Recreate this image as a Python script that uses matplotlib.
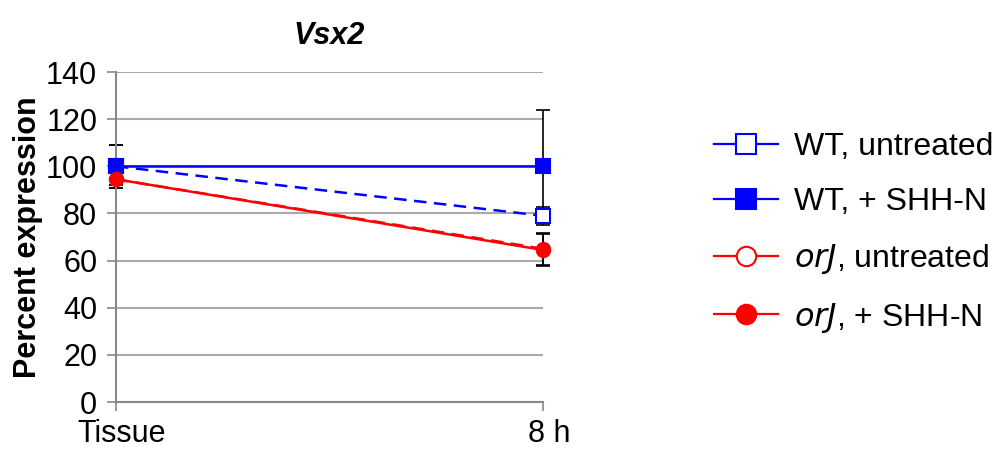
import matplotlib.pyplot as plt
from matplotlib.transforms import ScaledTranslation

plt.rcParams['font.family'] = ['Liberation Sans', 'DejaVu Sans']

timepoints = ['Tissue', '8 h']
wt_untreated = [100, 79]
wt_untreated_err = [9, 3.8]
wt_shh = [100, 100]
wt_shh_err = [9, 24]
orj_untreated = [94.5, 65]
orj_untreated_err = [2.5, 6.7]
orj_shh = [94.5, 64.5]
orj_shh_err = [2.5, 6.8]

fig = plt.figure(figsize=(10.03, 4.53), dpi=100)
ax = fig.add_axes([116 / 1003, 51 / 453, 427 / 1003, 330 / 453])

x = [0, 1]
series = [
    (wt_untreated, wt_untreated_err, 'blue', '--', 's', 'white', 'WT, untreated'),
    (wt_shh, wt_shh_err, 'blue', '-', 's', 'blue', 'WT, + SHH-N'),
    (orj_untreated, orj_untreated_err, 'red', '--', 'o', 'white', '$\\it{orJ}$, untreated'),
    (orj_shh, orj_shh_err, 'red', '-', 'o', 'red', '$\\it{orJ}$, + SHH-N'),
]
handles = []
for vals, err, col, ls, mk, fc, lab in series:
    eb = ax.errorbar(x, vals, yerr=err, fmt='none', ecolor='black', elinewidth=1.2,
                     capsize=5, capthick=1.2, zorder=2)
    for art in eb.lines[1] + eb.lines[2]:
        art.set_clip_on(False)
    line, = ax.plot(x, vals, color=col, linestyle=ls, linewidth=1.8, zorder=3, clip_on=False)
    if ls == '--':
        line.set_dashes((5, 3))
    ax.plot(x, vals, linestyle='none', marker=mk, markersize=9.5, clip_on=False,
            markerfacecolor=fc, markeredgecolor=col, markeredgewidth=1.5, zorder=4)
    h, = plt.plot([], [], color=col, linewidth=1.6, marker=mk, markersize=14,
                  markerfacecolor=fc, markeredgecolor=col, markeredgewidth=1.5)
    handles.append((h, lab))

ax.set_xlim(0, 1)
ax.set_ylim(0, 140)
ax.set_yticks(range(0, 141, 20))
ax.set_xticks(x)
ax.set_xticklabels(timepoints)
ax.tick_params(axis='both', labelsize=22, color='#888888', length=6.5, width=1.2)
ax.tick_params(axis='y', pad=7)
ax.tick_params(axis='x', pad=6)
# nudge category labels a little to the right
for lbl in ax.get_xticklabels():
    lbl.set_transform(lbl.get_transform() + ScaledTranslation(6 / 100, 0, fig.dpi_scale_trans))
ax.grid(axis='y', color='#aaaaaa', linewidth=1.5)
ax.set_axisbelow(True)
for s in ['top', 'right']:
    ax.spines[s].set_visible(False)
ax.spines['left'].set_color('#888888')
ax.spines['left'].set_linewidth(1.5)
ax.spines['bottom'].set_color('#888888')
ax.spines['bottom'].set_linewidth(1.5)

ax.set_ylabel('Percent expression', fontsize=22, fontweight='bold', labelpad=2)
ax.set_title('Vsx2', fontsize=22, fontweight='bold', fontstyle='italic', pad=20)

fig.legend([h for h, _ in handles], [l for _, l in handles], loc='center left',
           bbox_to_anchor=(685 / 1003, 0.485), frameon=False, fontsize=23,
           handlelength=2.0, labelspacing=0.78, handletextpad=0.5)

fig.savefig('out.png', dpi=100)
